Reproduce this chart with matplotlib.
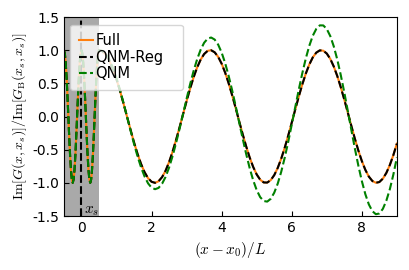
import numpy as np
import matplotlib
matplotlib.use('Agg')
import matplotlib.pyplot as plt

plt.rcParams['mathtext.fontset'] = 'cm'
plt.rcParams['axes.unicode_minus'] = False

# inside the shaded slab, x from -0.5 to 0.5
x_in = [-0.5 + 0.025 * i for i in range(41)]
y_in = [1.0, 0.951, 0.809, 0.588, 0.309, 0.0, -0.309, -0.588, -0.809, -0.951,
        -1.0, -0.951, -0.809, -0.588, -0.309, 0.0, 0.309, 0.588, 0.809, 0.951,
        1.0, 0.951, 0.809, 0.588, 0.309, 0.0, -0.309, -0.588, -0.809, -0.951,
        -1.0, -0.951, -0.809, -0.588, -0.309, 0.0, 0.309, 0.588, 0.809, 0.951,
        1.0]

# outside, x from 0.6 to 9.0
x_out = [round(0.6 + 0.1 * i, 2) for i in range(85)]
full_out = [0.983, 0.928, 0.836, 0.711, 0.559, 0.385, 0.195, -0.003, -0.200,
            -0.391, -0.564, -0.715, -0.839, -0.930, -0.984, -1.000, -0.976, -0.914,
            -0.817, -0.687, -0.529, -0.351, -0.161, 0.037, 0.233, 0.421, 0.592,
            0.739, 0.857, 0.942, 0.990, 0.999, 0.968, 0.900, 0.796, 0.661, 0.500,
            0.320, 0.127, -0.072, -0.267, -0.452, -0.619, -0.761, -0.874, -0.953,
            -0.994, -0.996, -0.959, -0.884, -0.775, -0.635, -0.470, -0.287, -0.092,
            0.106, 0.300, 0.482, 0.645, 0.783, 0.891, 0.963, 0.997, 0.992, 0.949,
            0.868, 0.753, 0.609, 0.440, 0.254, 0.058, -0.140, -0.333, -0.512,
            -0.671, -0.804, -0.906, -0.972, -0.999, -0.988, -0.937, -0.850, -0.730,
            -0.581, -0.409]
qnm_out = [0.989, 0.939, 0.851, 0.728, 0.576, 0.399, 0.203, -0.003, -0.211,
           -0.414, -0.601, -0.766, -0.904, -1.008, -1.073, -1.096, -1.076, -1.013,
           -0.910, -0.769, -0.596, -0.397, -0.183, 0.042, 0.268, 0.487, 0.688,
           0.863, 1.006, 1.112, 1.174, 1.191, 1.160, 1.084, 0.963, 0.804, 0.611,
           0.393, 0.157, -0.089, -0.333, -0.566, -0.779, -0.962, -1.110, -1.216,
           -1.274, -1.283, -1.241, -1.149, -1.012, -0.833, -0.619, -0.380, -0.122,
           0.142, 0.403, 0.650, 0.873, 1.065, 1.217, 1.321, 1.374, 1.373, 1.319,
           1.212, 1.056, 0.857, 0.622, 0.361, 0.083, -0.200, -0.479, -0.739,
           -0.973, -1.171, -1.325, -1.427, -1.473, -1.462, -1.392, -1.268, -1.094,
           -0.874, -0.618]

x = x_in + x_out
full = y_in + full_out
qnm_reg = y_in + full_out
qnm = y_in + qnm_out

fig = plt.figure(figsize=(4.1, 2.7), dpi=100)
ax = fig.add_axes([0.156, 0.2, 0.812, 0.737])

ax.axvspan(-0.5, 0.5, color='darkgray', lw=0)
ax.axvline(0, color='k', ls='--', lw=1.5)
ax.text(0.06, -1.46, '$x_s$', fontsize=11)

ax.plot(x, full, color='C1', lw=1.5, label='Full')
ax.plot(x, qnm_reg, color='k', ls='--', lw=1.5, label='QNM-Reg')
ax.plot(x, qnm, color='green', ls='--', lw=1.5, label='QNM')

ax.set_xlim(-0.5, 9)
ax.set_ylim(-1.5, 1.5)
ax.set_xticks([0, 2, 4, 6, 8])
ax.set_yticks([-1.5, -1.0, -0.5, 0.0, 0.5, 1.0, 1.5])
ax.tick_params(direction='in')
ax.set_xlabel('$(x-x_0)/L$', fontsize=11)
ax.set_ylabel(r'$\mathrm{Im}[G(x,x_s)]/\mathrm{Im}[G_\mathrm{B}(x_s,x_s)]$',
              fontsize=10, labelpad=2)
ax.legend(loc='upper left', bbox_to_anchor=(0.018, 0.0, 0.339, 0.962),
          mode='expand', borderaxespad=0, fontsize=10.5,
          handlelength=1.0, handletextpad=0.15, labelspacing=0.1, borderpad=0.6)

fig.savefig('out.png')
